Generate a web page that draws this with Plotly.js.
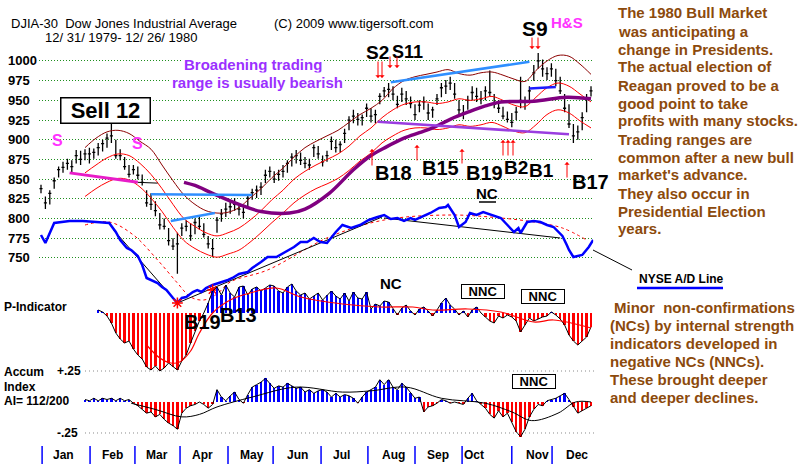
<!DOCTYPE html>
<html>
<head>
<meta charset="utf-8">
<script src="https://cdn.plot.ly/plotly-3.0.1.min.js"></script>
<style>
  html, body { margin: 0; padding: 0; background: #fff; }
  #chart { width: 800px; height: 467px; }
</style>
</head>
<body>
<div id="chart"></div>
<script>
// ---- DJIA-30 daily bars, every second trading day (day 0 = 12/31/1979) ----
const barDay = [0,2,4,6,8,10,12,14,16,18,20,22,24,26,28,30,32,34,36,38,40,42,44,46,48,50,52,54,56,58,60,62,64,66,68,70,72,74,76,78,80,82,84,86,88,90,92,94,96,98,100,102,104,106,108,110,112,114,116,118,120,122,124,126,128,130,132,134,136,138,140,142,144,146,148,150,152,154,156,158,160,162,164,166,168,170,172,174,176,178,180,182,184,186,188,190,192,194,196,198,200,202,204,206,208,210,212,214,216,218,220,222,224,226,228,230,232,234,236,238,240,242,244,246,248,250];
const barHigh = [843,828,836,852,866,872,876,874,887,886, 888,890,889,896,900,908,920,900,888,878, 868,868,866,856,836,832,822,807,800,788, 775,782,794,798,794,800,802,794,778,774, 802,812,820,822,826,818,816,830,838,842, 846,862,866,860,862,868,874,883,887,884, 878,876,894,892,880,886,904,900,898,914, 930,938,934,932,946,940,938,959,967,972, 968,956,966,962,955,945,950,955,946,942, 958,972,976,980,972,950,944,956,968,966, 962,968,988,958,950,942,936,934,942,980, 955,968,995,1010,1002,992,997,990,980,958, 945,920,918,935,958,968];
const barLow = [832,812,818,838,852,858,862,858,870,868, 874,870,876,880,885,890,896,876,874,862, 852,856,850,842,815,811,803,786,786,766, 760,730,778,784,772,780,786,776,762,751, 782,796,802,806,810,804,800,812,824,826, 830,845,852,845,848,852,858,866,870,868, 864,862,878,876,866,872,887,884,884,896, 912,921,918,918,929,922,921,945,954,954, 950,940,948,944,940,925,935,938,925,928, 944,954,958,963,952,932,926,938,950,948, 945,950,955,940,934,926,922,916,925,940, 938,948,975,990,980,976,980,968,958,935, 915,896,900,912,935,955];
const barClose = [838,820,832,848,862,865,870,866,880,875, 882,882,884,890,895,902,905,880,880,866, 856,862,855,846,820,818,810,792,790,772, 765,768,788,790,778,795,790,780,768,762, 798,806,812,815,818,812,808,826,833,836, 840,855,860,850,856,860,870,878,880,874, 870,868,890,882,872,880,898,890,894,908, 925,930,926,928,940,930,932,955,962,964, 958,945,958,952,946,932,944,948,934,938, 952,966,968,972,958,938,934,950,960,955, 952,962,960,945,940,930,926,922,935,950, 948,962,985,1000,990,984,990,975,962,940, 920,905,910,928,952,962];

// ---- moving average and its bands ----
const maDay = [20,25,30,35,40,45,50,55,60,65,70,75,80,85,90,95,100,105,110,115,120,125,130,135,140,145,150,155,160,165,170,175,180,185,190,195,200,205,210,215,220,225,230,235,240,245,250];
const bandUpper = [890,902,910,912,908,898,888,868,848,830,818,810,807,808,814,826,838,852,864,878,890,898,905,912,922,932,940,950,965,975,980,983,986,989,984,982,985,986,982,977,974,988,1000,1007,1006,996,983];
const maMid = [858,868,877,882,880,870,856,838,818,800,790,782,778,782,788,798,810,824,836,850,860,868,875,882,892,905,915,928,938,945,948,948,946,948,952,950,952,955,950,944,942,954,966,972,968,958,948];
const bandLower = [828,838,846,851,849,840,826,809,789,772,762,755,751,755,760,770,782,795,807,820,830,838,844,851,861,873,883,896,905,912,915,915,913,915,919,917,919,922,917,911,909,919,932,938,934,924,915];
const longMaDay = [65,70,78,90,100,113,120,131,142,150,157,165,172,178,186,194,202,209,224,239,250];
const longMa = [846,842,832,818,809,807,812,832,862,880,891,902,909,915,926,935,943,948,949,954,952];

// ---- hand-drawn trend lines on price ----
const magentaDay = [13,44], magentaVal = [858,846];
const blackStubDay = [44,53], blackStubVal = [846,845];
const blueADay = [50,96], blueAVal = [831,830];
const blueBDay = [59,79], blueBVal = [797,807];
const topBlueDay = [159,222], topBlueVal = [973,999];
const shortBlueDay = [222,234], shortBlueVal = [965,967];
const lowPurpleDay = [153,240], lowPurpleVal = [923,907];

// ---- NYSE advance/decline line ----
const adDay = [0,2,6,9,13,19,25,31,34,36,39,41,44,46,48,50,53,55,57,60,62,64,66,69,71,73,75,78,81,85,87,90,94,96,100,103,107,111,115,118,121,124,127,130,134,137,141,145,149,153,156,159,162,165,168,170,172,177,181,184,185,188,190,193,195,198,201,204,209,212,215,217,218,221,224,227,230,233,235,237,239,240,242,244,246,249,251];
const adVal = [650,570,770,780,790,790,780,770,680,600,520,500,440,350,220,200,170,130,100,20,-30,20,30,80,100,80,120,150,170,200,220,260,280,320,380,430,430,480,530,580,580,620,580,570,680,750,720,750,800,830,850,810,820,790,820,800,820,870,920,930,950,850,730,780,870,850,880,860,820,750,680,720,670,780,790,780,750,730,690,640,550,500,430,440,450,530,600];
const adMaDay = [20,31,42,53,62,68,74,80,86,103,131,156,186,209,224,237,248];
const adMaVal = [750,780,650,400,170,30,0,60,180,300,630,800,850,820,780,720,600];
const adTrendADay = [33,62], adTrendAVal = [700,-30];
const adTrendBDay = [62,155], adTrendBVal = [-30,830];
const adTrendCDay = [156,236], adTrendCVal = [820,620];
const adMarkDay = [62,78], adMarkVal = [-30,100];

// ---- P-Indicator ----
const pDay = [26,28,30,32,34,36,38,40,42,44,46,48,50,52,54,56,58,60,62,64,66,68,70,72,74,76,78,80,82,84,86,88,90,92,94,96,98,100,102,104,106,108,110,112,114,116,118,120,122,124,126,128,130,132,134,136,138,140,142,144,146,148,150,152,154,156,158,160,162,164,166,168,170,172,174,176,178,180,182,184,186,188,190,192,194,196,198,200,202,204,206,208,210,212,214,216,218,220,222,224,226,228,230,232,234,236,238,240,242,244,246,248,250];
const pInd = [30,10,-30,-100,-200,-260,-300,-280,-360,-420, -460,-540,-570,-530,-580,-550,-500,-540,-570,-480, -420,-300,-180,-80,0,100,220,260,180,280, 200,160,260,270,180,240,260,220,250,280, 270,220,200,260,290,220,180,200,140,170, 200,130,180,220,170,140,200,120,210,150, 140,210,40,90,70,120,110,40,-20,50, 80,20,-20,40,60,20,-30,30,100,150, 80,40,-20,20,-40,30,60,0,-40,-80, -100,-30,-50,-20,-40,-80,-190,-120,-50,-80, -60,-40,-30,10,-20,-60,-120,-220,-280,-320, -280,-240,-140];
const pMaDay = [48,54,59,63,68,72,78,86,95,107,118,137,154,169,178,194,209,224,233,250];
const pMaVal = [-320,-450,-500,-490,-380,-200,0,130,200,250,160,90,60,60,30,40,10,-90,-70,-150];

// ---- Accumulation Index ----
const aDay = [20,22,24,26,28,30,32,34,36,38,40,42,44,46,48,50,52,54,56,58,60,62,64,66,68,70,72,74,76,78,80,82,84,86,88,90,92,94,96,98,100,102,104,106,108,110,112,114,116,118,120,122,124,126,128,130,132,134,136,138,140,142,144,146,148,150,152,154,156,158,160,162,164,166,168,170,172,174,176,178,180,182,184,186,188,190,192,194,196,198,200,202,204,206,208,210,212,214,216,218,220,222,224,226,228,230,232,234,236,238,240,242,244,246,248,250];
const accum = [0.02,0.01,0.03,0.01,0.03,0.02,0.03,0.01,0.03,0.01, 0.02,-0.01,-0.03,-0.06,-0.09,-0.08,-0.12,-0.10,-0.14,-0.17, -0.19,-0.22,-0.09,-0.05,-0.03,-0.02,0.0,-0.02,-0.05,-0.02, 0.10,0.04,0.01,0.05,0.08,0.02,-0.01,0.06,0.12,0.14, 0.16,0.19,0.15,0.11,0.13,0.12,0.15,0.13,0.11,0.12, 0.08,0.10,0.07,0.09,0.10,0.08,0.04,0.07,0.04,0.06, 0.05,0.03,-0.01,0.04,0.08,0.10,0.12,0.18,0.14,0.18, 0.12,0.10,0.15,0.12,0.07,0.03,0.04,-0.08,-0.04,-0.03, -0.01,0.02,0.01,-0.01,0.0,-0.01,-0.02,0.03,0.07,0.01, -0.02,-0.05,-0.10,-0.13,-0.07,-0.12,-0.09,-0.16,-0.24,-0.28, -0.22,-0.12,-0.06,-0.02,-0.03,0.01,0.02,0.03,0.05,0.07, 0.02,-0.04,-0.09,-0.07,-0.05,-0.03];
const aMaDay = [41,52,64,72,80,96,116,137,150,166,182,202,214,223,235,243,250];
const aMaVal = [-0.01,-0.06,-0.12,-0.10,-0.04,0.04,0.12,0.08,0.09,0.12,0.03,-0.01,-0.08,-0.15,-0.09,0.0,0.0];

// ---- axis labels ----
const priceTicks = [750,775,800,825,850,875,900,925,950,975,1000];
const monthNames = ['Jan','Feb','Mar','Apr','May','Jun','Jul','Aug','Sep','Oct','Nov','Dec'];
const monthMid = [10,32.7,52.7,73.6,96,116.4,136.8,160,180.5,197,225.5,243.6];
const monthStart = [0.5,22.3,42.7,63.2,85,105.5,127.3,148.6,170,191.4,214,232.3];

const buySignals = [
  {x:372, tip:149, tail:167}, {x:417, tip:145, tail:162}, {x:462, tip:149, tail:165},
  {x:503, tip:140, tail:157}, {x:508, tip:140, tail:157}, {x:513, tip:140, tail:157},
  {x:567, tip:162, tail:179}
];
const sellSignals = [
  {x:378, tip:78, tail:60}, {x:382, tip:78, tail:60}, {x:390, tip:68, tail:55},
  {x:397, tip:68, tail:55}, {x:532, tip:49, tail:36}, {x:538, tip:49, tail:36}
];

const commentary = ['The 1980 Bull Market','was anticipating a','change in Presidents.','The actual election of','Reagan proved to be a','good point to take','profits with many stocks.','Trading ranges are','common after a new bull',"market's advance.",'They also occur in','Presidential Election','years.'];
const ncNotes = ['Minor\u00a0 non-confirmations','(NCs) by internal strength','indicators developed in','negative NCs (NNCs).','These brought deeper','and deeper declines.'];

// ---- helpers ----
const W = 800, H = 467;
const PX = x => x / W;
const PY = y => 1 - y / H;
const FONT = 'Arial, "Liberation Sans", sans-serif';

function line(x, y, color, width, yaxis, extra) {
  return Object.assign({type:'scatter', mode:'lines', x, y, xaxis:'x', yaxis:yaxis || 'y',
    line:{color, width}, hoverinfo:'skip'}, extra || {});
}
function label(text, x, y, size, color, anchor, extra) {
  return Object.assign({text, xref:'paper', yref:'paper', x:PX(x), y:PY(y),
    xanchor:anchor || 'center', yanchor:'middle', showarrow:false,
    font:{family:FONT, size, color:color || '#000'}}, extra || {});
}
function arrow(s) {
  return {text:'', xref:'paper', yref:'paper', x:PX(s.x), y:PY(s.tip), ax:0, ay:s.tail - s.tip,
    showarrow:true, arrowhead:1, arrowsize:0.9, arrowwidth:1, arrowcolor:'#ff0000'};
}

const BLUE = '#0000ff', RED = '#ff0000';

const traces = [
  // price moving averages
  line(maDay, bandUpper, '#8b0000', 1, 'y', {line:{color:'#8b0000', width:1, shape:'spline'}}),
  line(maDay, maMid, RED, 1, 'y', {line:{color:RED, width:1, shape:'spline'}}),
  line(maDay, bandLower, RED, 1, 'y', {line:{color:RED, width:1, shape:'spline'}}),
  line(longMaDay, longMa, '#800080', 3.5, 'y', {line:{color:'#800080', width:3.5, shape:'spline'}}),
  // trend lines
  line(magentaDay, magentaVal, '#e81cc8', 3),
  line(blackStubDay, blackStubVal, '#000', 1),
  line(blueADay, blueAVal, '#2f8fff', 2.5),
  line(blueBDay, blueBVal, '#2f8fff', 2.5),
  line(topBlueDay, topBlueVal, '#2f8fff', 2.5),
  line(shortBlueDay, shortBlueVal, '#1c1cff', 2.5),
  line(lowPurpleDay, lowPurpleVal, '#9a3ee0', 2.5),
  // price bars
  {type:'ohlc', x:barDay, open:barClose, high:barHigh, low:barLow, close:barClose,
   xaxis:'x', yaxis:'y', tickwidth:0.35, hoverinfo:'skip',
   increasing:{line:{color:'#000', width:1.3}}, decreasing:{line:{color:'#000', width:1.3}}},
  // advance/decline line
  line(adMaDay, adMaVal, RED, 1, 'y2', {line:{color:RED, width:1, dash:'dot', shape:'spline'}}),
  line(adTrendADay, adTrendAVal, '#000', 1, 'y2'),
  line(adTrendBDay, adTrendBVal, '#000', 1, 'y2'),
  line(adTrendCDay, adTrendCVal, '#000', 1, 'y2'),
  line(adDay, adVal, BLUE, 2.5, 'y2'),
  {type:'scatter', mode:'markers', x:adMarkDay, y:adMarkVal, xaxis:'x', yaxis:'y2', hoverinfo:'skip',
   marker:{symbol:'asterisk-open', size:9, color:RED, line:{color:RED, width:1.5}}},
  // P-Indicator
  {type:'bar', x:pDay, y:pInd, xaxis:'x', yaxis:'y3', width:1.1, hoverinfo:'skip',
   marker:{color:pInd.map(v => v >= 0 ? BLUE : RED), line:{width:0}}},
  line(pDay, pInd, '#000', 1, 'y3'),
  line(pMaDay, pMaVal, RED, 1.2, 'y3', {line:{color:RED, width:1.2, shape:'spline'}}),
  // Accumulation index
  {type:'bar', x:aDay, y:accum, xaxis:'x', yaxis:'y4', width:1.1, hoverinfo:'skip',
   marker:{color:accum.map(v => v >= 0 ? BLUE : RED), line:{width:0}}},
  line(aDay, accum, '#000', 1, 'y4'),
  line(aMaDay, aMaVal, '#000', 1, 'y4', {line:{color:'#000', width:1, shape:'spline'}})
];

const shapes = [];
monthStart.forEach(d => shapes.push({type:'line', xref:'x', yref:'paper', x0:d, x1:d,
  y0:PY(446), y1:PY(464), line:{color:BLUE, width:1.5}}));
[0.25, -0.25].forEach(v => shapes.push({type:'line', xref:'paper', yref:'y4', x0:PX(85), x1:PX(595),
  y0:v, y1:v, line:{color:'#8a8a8a', width:1, dash:'1px,3px'}}));
shapes.push({type:'line', xref:'paper', yref:'paper', x0:PX(479), x1:PX(496), y0:PY(202), y1:PY(202), line:{color:'#000', width:1.5}});
shapes.push({type:'line', xref:'paper', yref:'paper', x0:PX(637), x1:PX(723), y0:PY(288), y1:PY(288), line:{color:BLUE, width:2.5}});
shapes.push({type:'line', xref:'paper', yref:'paper', x0:PX(593), x1:PX(632), y0:PY(250), y1:PY(270), line:{color:'#000', width:1}});

const ann = [];
ann.push(label('DJIA-30\u00a0\u00a0Dow Jones Industrial Average', 9, 23, 13, '#000', 'left'));
ann.push(label('(C) 2009 www.tigersoft.com', 272, 23, 13, '#000', 'left'));
ann.push(label('12/ 31/ 1979- 12/ 26/ 1980', 43, 38, 13, '#000', 'left'));
priceTicks.forEach(v => ann.push({text:'<b>' + v + '</b>', xref:'paper', yref:'y', x:PX(6), y:v,
  xanchor:'left', yanchor:'middle', showarrow:false, font:{family:FONT, size:13, color:'#000'}}));
monthNames.forEach((m, i) => ann.push({text:'<b>' + m + '</b>', xref:'x', yref:'paper', x:monthMid[i], y:PY(455),
  xanchor:'center', yanchor:'middle', showarrow:false, font:{family:FONT, size:12, color:'#000'}}));

ann.push(label('<b>Sell 12</b>', 105, 110, 22, '#000', 'center',
  {bordercolor:'#000', borderwidth:1.5, bgcolor:'#fff', width:86, height:22, borderpad:1}));
ann.push(label('<b>S</b>', 58, 140, 16, '#ff33ff'));
ann.push(label('<b>S</b>', 137, 143, 16, '#ff33ff'));
ann.push(label('<b>Broadening trading</b>', 253, 64, 15, '#9b30ff', 'center', {bgcolor:'#fff'}));
ann.push(label('<b>range is usually bearish</b>', 257, 82, 15, '#9b30ff', 'center', {bgcolor:'#fff'}));
ann.push(label('<b>S2</b>', 364, 53, 19, '#000', 'left'));
ann.push(label('<b>S11</b>', 390, 52, 18, '#000', 'left'));
ann.push(label('<b>S9</b>', 535, 28, 21, '#000'));
ann.push(label('<b>H&amp;S</b>', 567, 22, 15, '#ff33ff'));
ann.push(label('<b>B18</b>', 393, 173, 20));
ann.push(label('<b>B15</b>', 440, 168, 20));
ann.push(label('<b>B19</b>', 484, 173, 20));
ann.push(label('<b>B2</b>', 502, 167, 19, '#000', 'left'));
ann.push(label('<b>B1</b>', 527, 170, 19, '#000', 'left'));
ann.push(label('<b>B17</b>', 590, 182, 20));
ann.push(label('<b>B19</b>', 202, 322, 20));
ann.push(label('<b>B13</b>', 238, 315, 20));
ann.push(label('<b>NC</b>', 487, 193, 15));
ann.push(label('<b>NC</b>', 391, 283, 15));
const box = {bordercolor:'#000', borderwidth:1, bgcolor:'#fff', borderpad:1, width:40, height:11};
ann.push(label('<b>NNC</b>', 483, 291, 13, '#000', 'center', box));
ann.push(label('<b>NNC</b>', 543, 296, 13, '#000', 'center', box));
ann.push(label('<b>NNC</b>', 534, 381, 13, '#000', 'center', box));
ann.push(label('<b>P-Indicator</b>', 2, 307, 12, '#000', 'left'));
ann.push(label('<b>Accum</b>', 2, 372, 12, '#000', 'left'));
ann.push(label('<b>Index</b>', 2, 387, 12, '#000', 'left'));
ann.push(label('<b>AI= 112/200</b>', 2, 401, 12, '#000', 'left'));
ann.push(label('<b>+.25</b>', 55, 371, 12, '#000', 'left'));
ann.push(label('<b>-.25</b>', 55, 433, 12, '#000', 'left'));
ann.push(label('<b>NYSE A/D Line</b>', 637, 279, 12, '#000', 'left'));
commentary.forEach((t, i) => ann.push(label('<b>' + t + '</b>', 616, 13 + 18 * i, 15, '#8c4a0c', 'left')));
ncNotes.forEach((t, i) => ann.push(label('<b>' + t + '</b>', i === 0 ? 612 : 608, 307 + 18 * i, 15, '#8c4a0c', 'left')));
buySignals.forEach(s => ann.push(arrow(s)));
sellSignals.forEach(s => ann.push(arrow(s)));

const layout = {
  width: W, height: H,
  margin: {l:0, r:0, t:0, b:0},
  paper_bgcolor: '#fff', plot_bgcolor: 'rgba(0,0,0,0)',
  showlegend: false,
  font: {family: FONT, color: '#000'},
  barmode: 'overlay', bargap: 0,
  xaxis: {domain:[38.8/W, 593.2/W], range:[-1, 251], showgrid:false, zeroline:false,
          showticklabels:false, ticks:'', showline:false, rangeslider:{visible:false}, fixedrange:true},
  yaxis: {domain:[PY(310), PY(40)], range:[684, 1026.6], tickvals:priceTicks, showticklabels:false,
          showgrid:true, gridcolor:'#1f8f1f', griddash:'1px,2px', gridwidth:1, zeroline:false, ticks:'', fixedrange:true},
  yaxis2: {overlaying:'y', anchor:'x', range:[-100, 2600], visible:false, fixedrange:true},
  yaxis3: {domain:[PY(378), PY(275)], anchor:'x', range:[-650, 380], visible:false, fixedrange:true},
  yaxis4: {domain:[PY(440), PY(360)], anchor:'x', range:[-0.3065, 0.3387], visible:false, fixedrange:true},
  shapes, annotations: ann
};

Plotly.newPlot('chart', traces, layout, {staticPlot:true, displayModeBar:false});
</script>
</body>
</html>
